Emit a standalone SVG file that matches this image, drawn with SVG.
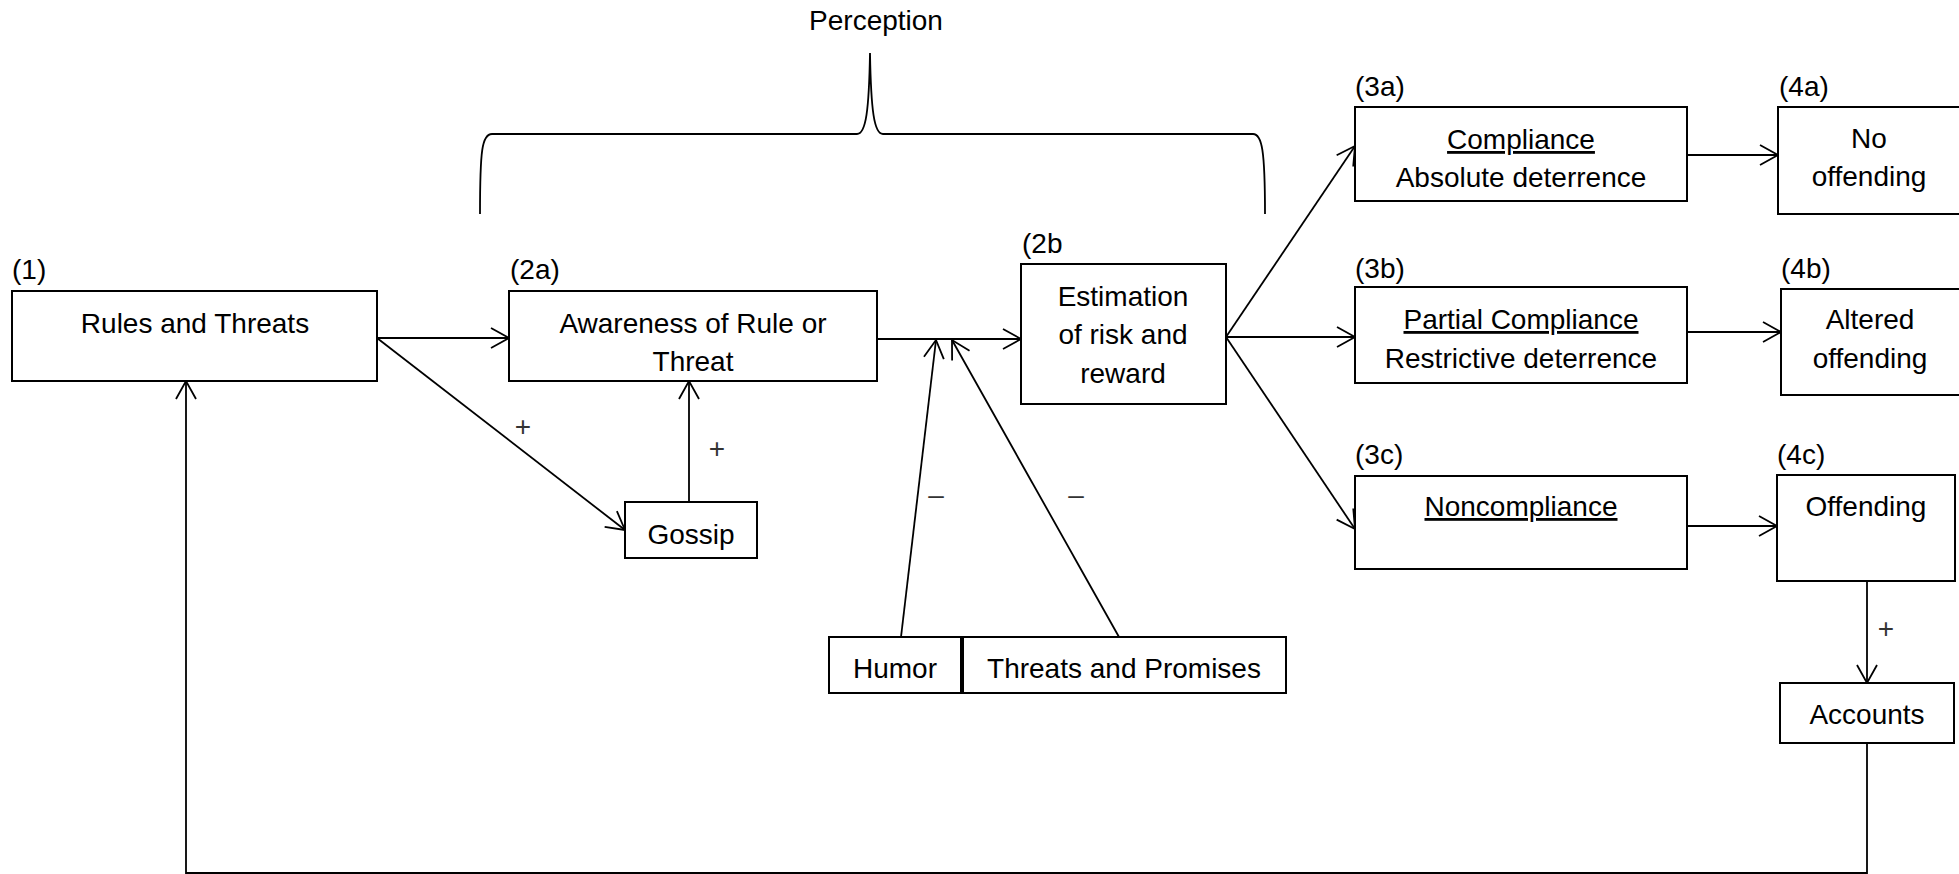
<svg xmlns="http://www.w3.org/2000/svg" width="1959" height="874" viewBox="0 0 1959 874">
<style>
text{font-family:"Liberation Sans",Arial,sans-serif;font-size:28px;fill:#000}
.c{text-anchor:middle}
.u{text-decoration:underline}
.box{fill:#fff;stroke:#000;stroke-width:2}
.ln{fill:none;stroke:#000;stroke-width:1.8}
.sg{font-size:28px;fill:#333;text-anchor:middle}
</style>
<defs>
<marker id="ah" markerUnits="userSpaceOnUse" markerWidth="24" markerHeight="24" refX="20" refY="11" orient="auto">
<path d="M2,1 L20,11 L2,21" fill="none" stroke="#000" stroke-width="1.8"/>
</marker>
</defs>
<g id="perception">
<text class="c" x="876" y="30">Perception</text>
<path class="ln" d="M480 214 C480 150 482 134 492 134 L857 134 C866 134 869 110 870 53 C871 110 874 134 883 134 L1253 134 C1262 134 1265 150 1265 214"/>
</g>
<g id="connectors">
<path class="ln" d="M377 338 L509 338" marker-end="url(#ah)"/>
<path class="ln" d="M377 338 L625 530" marker-end="url(#ah)"/>
<path class="ln" d="M689 502 L689 381" marker-end="url(#ah)"/>
<path class="ln" d="M877 339 L1021 339" marker-end="url(#ah)"/>
<path class="ln" d="M901 637 L936 340" marker-end="url(#ah)"/>
<path class="ln" d="M1119 637 L952 340" marker-end="url(#ah)"/>
<path class="ln" d="M1226 337 L1355 146" marker-end="url(#ah)"/>
<path class="ln" d="M1226 337 L1355 337" marker-end="url(#ah)"/>
<path class="ln" d="M1226 337 L1355 529" marker-end="url(#ah)"/>
<path class="ln" d="M1687 155 L1778 155" marker-end="url(#ah)"/>
<path class="ln" d="M1687 332 L1781 332" marker-end="url(#ah)"/>
<path class="ln" d="M1687 526 L1777 526" marker-end="url(#ah)"/>
<path class="ln" d="M1867 580 L1867 683" marker-end="url(#ah)"/>
<path class="ln" d="M1867 743 L1867 873 L186 873 L186 381" marker-end="url(#ah)"/>
<text class="sg" x="523" y="436">+</text>
<text class="sg" x="717" y="458">+</text>
<text class="sg" x="1886" y="638">+</text>
<text class="sg" x="936" y="504">–</text>
<text class="sg" x="1076" y="504">–</text>
</g>
<g id="n1">
<text x="12" y="279">(1)</text>
<rect class="box" x="12" y="291" width="365" height="90"/>
<text class="c" x="195" y="333">Rules and Threats</text>
</g>
<g id="n2a">
<text x="510" y="279">(2a)</text>
<rect class="box" x="509" y="291" width="368" height="90"/>
<text class="c" x="693" y="333">Awareness of Rule or</text>
<text class="c" x="693" y="371">Threat</text>
</g>
<g id="gossip">
<rect class="box" x="625" y="502" width="132" height="56"/>
<text class="c" x="691" y="544">Gossip</text>
</g>
<g id="n2b">
<text x="1022" y="253">(2b</text>
<rect class="box" x="1021" y="264" width="205" height="140"/>
<text class="c" x="1123" y="306">Estimation</text>
<text class="c" x="1123" y="344">of risk and</text>
<text class="c" x="1123" y="383">reward</text>
</g>
<g id="humor">
<rect class="box" x="829" y="637" width="132" height="56"/>
<text class="c" x="895" y="678">Humor</text>
</g>
<g id="threats">
<rect class="box" x="963" y="637" width="323" height="56"/>
<text class="c" x="1124" y="678">Threats and Promises</text>
</g>
<g id="n3a">
<text x="1355" y="96">(3a)</text>
<rect class="box" x="1355" y="107" width="332" height="94"/>
<text class="c u" x="1521" y="149">Compliance</text>
<text class="c" x="1521" y="187">Absolute deterrence</text>
</g>
<g id="n3b">
<text x="1355" y="278">(3b)</text>
<rect class="box" x="1355" y="287" width="332" height="96"/>
<text class="c u" x="1521" y="329">Partial Compliance</text>
<text class="c" x="1521" y="368">Restrictive deterrence</text>
</g>
<g id="n3c">
<text x="1355" y="464">(3c)</text>
<rect class="box" x="1355" y="476" width="332" height="93"/>
<text class="c u" x="1521" y="516">Noncompliance</text>
</g>
<g id="n4a">
<text x="1779" y="96">(4a)</text>
<rect class="box" x="1778" y="107" width="190" height="107"/>
<text class="c" x="1869" y="148">No</text>
<text class="c" x="1869" y="186">offending</text>
</g>
<g id="n4b">
<text x="1781" y="278">(4b)</text>
<rect class="box" x="1781" y="289" width="190" height="106"/>
<text class="c" x="1870" y="329">Altered</text>
<text class="c" x="1870" y="368">offending</text>
</g>
<g id="n4c">
<text x="1777" y="464">(4c)</text>
<rect class="box" x="1777" y="475" width="178" height="106"/>
<text class="c" x="1866" y="516">Offending</text>
</g>
<g id="accounts">
<rect class="box" x="1780" y="683" width="174" height="60"/>
<text class="c" x="1867" y="724">Accounts</text>
</g>
</svg>
